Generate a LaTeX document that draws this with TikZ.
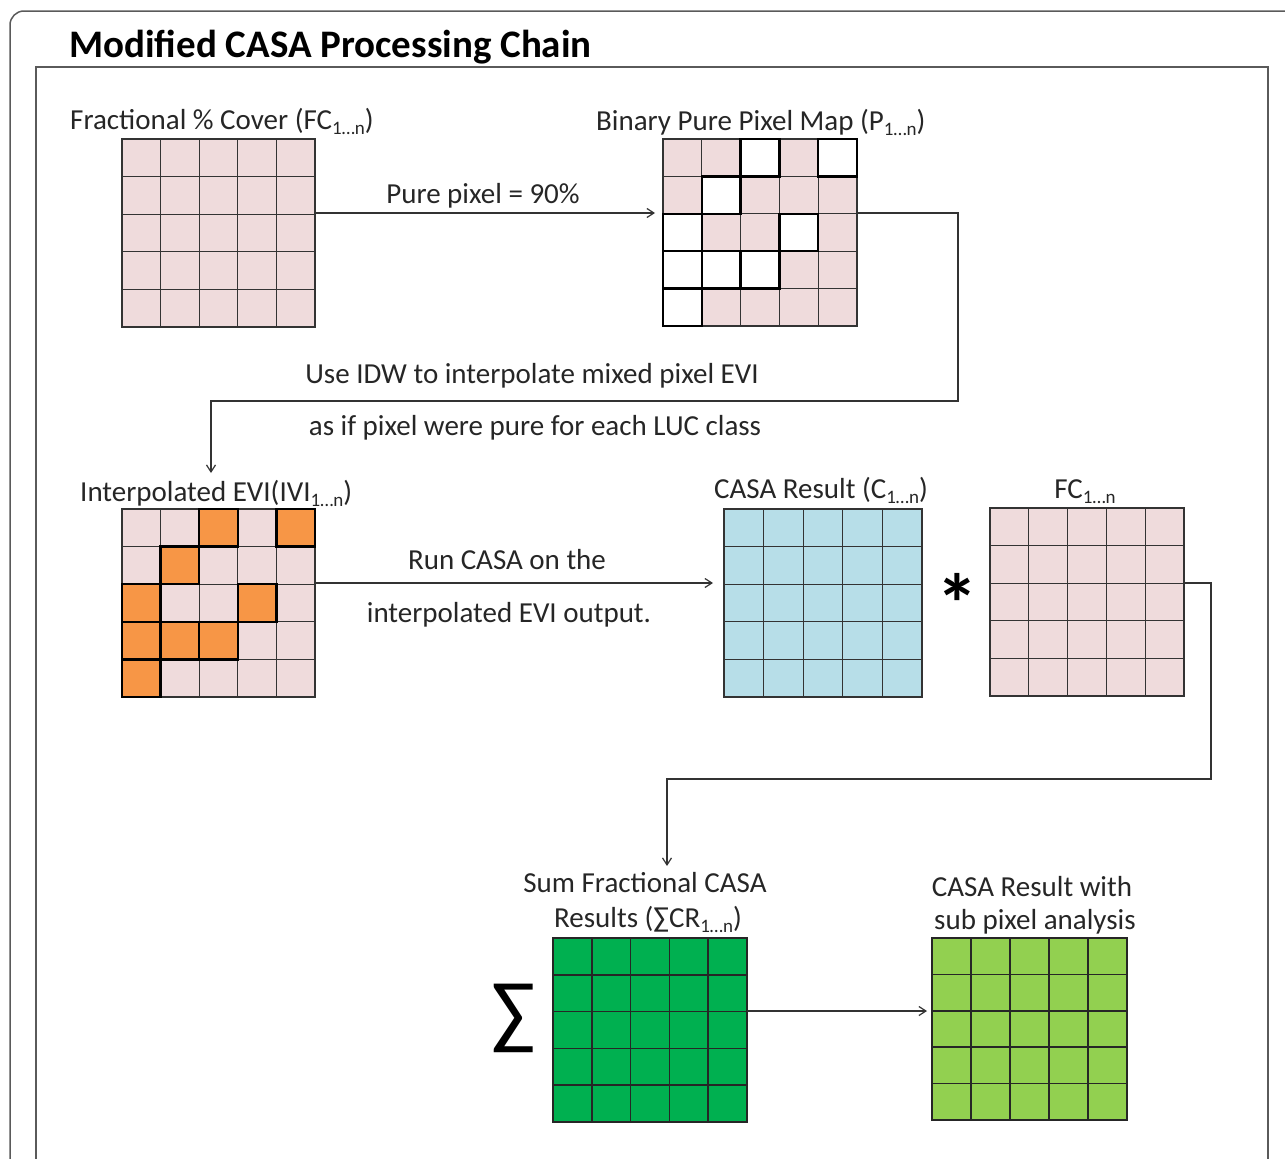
\documentclass[tikz,border=0pt]{standalone}
\usepackage{fontspec}
\setmainfont{Carlito}
\usetikzlibrary{calc,arrows.meta}
\definecolor{pinkc}{HTML}{EFDBDC}
\definecolor{bluec}{HTML}{B7DEE8}
\definecolor{orangec}{HTML}{F79646}
\definecolor{greenc}{HTML}{00B050}
\definecolor{lgreenc}{HTML}{92D050}
\definecolor{framec}{HTML}{5A5A5A}
\definecolor{txtc}{HTML}{262626}
\definecolor{linec}{HTML}{333333}
\newcommand\lowsub[1]{\raisebox{-0.4ex}{\fontsize{19}{19}\selectfont #1}}
\newcommand\pixgrid[2][gridline]{%
  \foreach \k in {1,...,4}{%
    \draw[#1] ($(#2.north west)!\k/5!(#2.north east)$) -- ($(#2.south west)!\k/5!(#2.south east)$);
    \draw[#1] ($(#2.north west)!\k/5!(#2.south west)$) -- ($(#2.north east)!\k/5!(#2.south east)$);
  }}
% origin x, origin y, cell w, cell h, col, row, fill
\newcommand\hicell[7]{\draw[hiline,fill=#7] ({#1+#5*#3},{#2+#6*#4}) rectangle ++(#3,#4);}
\tikzset{
  pixbox/.style={draw=linec, line width=1.3pt, inner sep=0pt, outer sep=0pt},
  gridline/.style={draw=linec, line width=1.3pt},
  darkgrid/.style={draw=black!85, line width=1.6pt},
  hiline/.style={draw=black, line width=2.4pt},
  lbl/.style={inner sep=0pt, text=txtc, font=\fontsize{29}{33}\selectfont},
  conn/.style={draw=linec, line width=1.2pt, -{Straight Barb[length=7pt,width=9pt]}},
}
\begin{document}
\begin{tikzpicture}[x=1pt,y=-1pt]
\useasboundingbox (0,0) rectangle (1285,1159);
\begin{scope}
\clip (0,0) rectangle (1285,1159);
% outer frame
\draw[framec, line width=1.5pt, rounded corners=14pt] (10,1200) -- (10,11) -- (1320,11);
% inner frame
\draw[framec, line width=1.5pt] (36,1200) -- (36,67) -- (1268,67) -- (1268,1200);
\end{scope}
\node[anchor=base west, inner sep=0pt, text=black, font=\fontsize{39}{44}\selectfont\bfseries] (title) at (69,57) {Modified CASA Processing Chain};

% grids
\node[pixbox, fill=pinkc, minimum width=193pt, minimum height=188pt] (fc) at (218.5,233) {};
\pixgrid{fc}
\node[pixbox, fill=pinkc, minimum width=194pt, minimum height=187pt] (bin) at (760,232.5) {};
\pixgrid{bin}
\foreach \c/\r in {2/0,4/0,1/1,0/2,3/2,0/3,1/3,2/3,0/4}{\hicell{663}{139}{38.8}{37.4}{\c}{\r}{white}}

\node[pixbox, fill=pinkc, minimum width=193pt, minimum height=188pt] (ivi) at (218.5,603) {};
\pixgrid{ivi}
\foreach \c/\r in {2/0,4/0,1/1,0/2,3/2,0/3,1/3,2/3,0/4}{\hicell{122}{509}{38.6}{37.6}{\c}{\r}{orangec}}

\node[pixbox, fill=bluec, minimum width=198pt, minimum height=188pt] (casa) at (823,603) {};
\pixgrid{casa}
\node[pixbox, fill=pinkc, minimum width=194pt, minimum height=188pt] (fc2) at (1087,602) {};
\pixgrid{fc2}
\node[pixbox, darkgrid, fill=greenc, minimum width=194pt, minimum height=184pt] (sum) at (650,1030) {};
\pixgrid[darkgrid]{sum}
\node[pixbox, darkgrid, fill=lgreenc, minimum width=195pt, minimum height=182pt] (res) at (1029.5,1029) {};
\pixgrid[darkgrid]{res}

% symbols
\node[inner sep=0pt, font=\fontsize{84}{84}\selectfont\bfseries] (star) at (957,603) {*};
\node[inner sep=0pt, font=\fontsize{82}{82}\selectfont] (sig) at (514,1018) {∑};

% labels
\node[lbl, anchor=base west] (lfc) at (70,129) {Fractional \% Cover (FC\lowsub{1…n})};
\node[lbl, anchor=base west] (lbin) at (596,130) {Binary Pure Pixel Map (P\lowsub{1…n})};
\node[lbl, anchor=base west] (livi) at (80,501) {Interpolated EVI(IVI\lowsub{1…n})};
\node[lbl, anchor=base west] (lcasa) at (714,498) {CASA Result (C\lowsub{1…n})};
\node[lbl, anchor=base] (lfc2) at (1085,498) {FC\lowsub{1…n}};
\node[lbl, anchor=base] (lsum1) at (645,892) {Sum Fractional CASA};
\node[lbl, anchor=base] (lsum2) at (648,927) {Results (∑CR\lowsub{1…n})};
\node[lbl, anchor=base] (lres1) at (1032,896) {CASA Result with};
\node[lbl, anchor=base] (lres2) at (1035,929) {sub pixel analysis};

% connectors
\coordinate (c0) at (0,213);
\draw[conn] (fc.east |- c0) -- ($(bin.west |- c0)+(-8,0)$);
\node[lbl, anchor=base] (lpure) at (483,203) {Pure pixel = 90\%};
\coordinate (c1) at (958,213);
\coordinate (c2) at (958,401);
\coordinate (c3) at (211,401);
\draw[conn] (bin.east |- c1) -- (c1) -- (c2) -- (c3) -- ($(ivi.north -| c3)+(0,-36)$);
\node[lbl, anchor=base] (lidw1) at (532,383) {Use IDW to interpolate mixed pixel EVI};
\node[lbl, anchor=base] (lidw2) at (535,435) {as if pixel were pure for each LUC class};

\coordinate (r0) at (0,583);
\draw[conn] (ivi.east |- r0) -- ($(casa.west |- r0)+(-11,0)$);
\node[lbl, anchor=base] (lrun1) at (507,569) {Run CASA on the};
\node[lbl, anchor=base] (lrun2) at (509,622) {interpolated EVI output.};

\coordinate (d1) at (1211,583);
\coordinate (d2) at (1211,779);
\coordinate (d3) at (667,779);
\draw[conn] (fc2.east |- d1) -- (d1) -- (d2) -- (d3) -- ($(sum.north -| d3)+(0,-72)$);

\coordinate (s0) at (0,1011);
\draw[conn] (sum.east |- s0) -- ($(res.west |- s0)+(-5,0)$);
\end{tikzpicture}
\end{document}
